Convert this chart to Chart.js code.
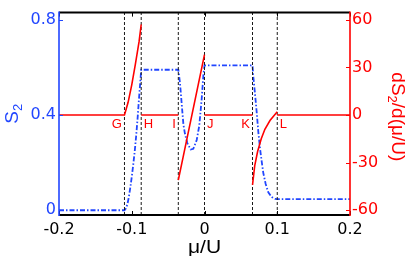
<!DOCTYPE html>
<html>
<head>
<meta charset="utf-8">
<script src="https://cdn.jsdelivr.net/npm/chart.js@4.4.0/dist/chart.umd.min.js"></script>
<style>
  html, body { margin: 0; padding: 0; background: #fff; }
  #wrap { width: 415px; height: 256px; }
</style>
</head>
<body>
<div id="wrap"><canvas id="chart" width="415" height="256"></canvas></div>
<script>
// S2 (left axis)
const muS2 = [-0.2, -0.11, -0.108, -0.106, -0.104, -0.102, -0.1, -0.098, -0.096, -0.094, -0.092, -0.09, -0.088, -0.087,
    -0.036, -0.0337, -0.0313, -0.029, -0.0268, -0.0236, -0.019, -0.0154, -0.0107, -0.0072, -0.0038, -0.0016, 0,
    0.066, 0.0671, 0.0694, 0.0718, 0.074, 0.0763, 0.0786, 0.0808, 0.0841, 0.0877, 0.0924, 0.0969, 0.1, 0.2];
const s2 = [0, 0, 0.008, 0.025, 0.055, 0.095, 0.14, 0.19, 0.245, 0.31, 0.385, 0.47, 0.55, 0.59,
    0.59, 0.535, 0.445, 0.36, 0.32, 0.282, 0.255, 0.258, 0.295, 0.355, 0.47, 0.565, 0.608,
    0.608, 0.56, 0.49, 0.41, 0.328, 0.26, 0.205, 0.157, 0.11, 0.075, 0.055, 0.048, 0.047, 0.047];

// dS2/d(mu/U) (right axis), null = break in the line
const muDS = [-0.2, -0.11, -0.105, -0.1, -0.095, -0.09, -0.087, -0.087,
    -0.087, -0.036, -0.036,
    -0.036, -0.018, 0, 0,
    0, 0.066, 0.066,
    0.066, 0.069, 0.073, 0.078, 0.083, 0.09, 0.1, 0.1,
    0.1, 0.2];
const dS = [0, 0, 8, 19, 32, 46, 57, null,
    0, 0, null,
    -41, -1.5, 38, null,
    0, 0, null,
    -44, -32, -23, -15, -9, -3.5, 2, null,
    0, 0];

// phase boundaries (dashed lines) and their names
const boundaries = [-0.11, -0.087, -0.036, 0, 0.066, 0.1];
const boundaryNames = ['G', 'H', 'I', 'J', 'K', 'L'];

// axes
const xTicks = [-0.2, -0.1, 0, 0.1, 0.2];
const xTickLabels = ['-0.2', '-0.1', '0', '0.1', '0.2'];
const s2Ticks = [0, 0.4, 0.8];
const s2TickLabels = ['0', '0.4', '0.8'];
const dsTicks = [-60, -30, 0, 30, 60];
const dsTickLabels = ['-60', '-30', '0', '30', '60'];
const s2Range = [-0.02, 0.83];
const dsRange = [-63, 64.5];

const BLUE = '#2146ff';
const RED = '#ff0000';

const pts = (xs, ys) => xs.map((x, i) => ({ x: x, y: ys[i] }));

const boundaryData = [];
boundaries.forEach(b => {
    boundaryData.push({ x: b, y: s2Range[0] }, { x: b, y: s2Range[1] }, { x: b, y: null });
});

// inward ticks, spines, titles, phase letters
const decorations = {
    id: 'decorations',
    afterDraw(chart) {
        const ctx = chart.ctx;
        const a = chart.chartArea;
        const sx = chart.scales.x, sy = chart.scales.y, sy1 = chart.scales.y1;
        ctx.save();

        // phase letters
        ctx.fillStyle = RED;
        ctx.font = '13px "Liberation Sans", Arial, sans-serif';
        ctx.textBaseline = 'alphabetic';
        const yl = sy1.getPixelForValue(0) + 13;
        boundaries.forEach((b, i) => {
            const px = sx.getPixelForValue(b);
            if (i % 2 === 0) { ctx.textAlign = 'right'; ctx.fillText(boundaryNames[i], px - 2.5, yl); }
            else { ctx.textAlign = 'left'; ctx.fillText(boundaryNames[i], px + 2.5, yl); }
        });

        // ticks
        ctx.lineWidth = 1;
        ctx.strokeStyle = '#000';
        xTicks.forEach(v => {
            const px = Math.round(sx.getPixelForValue(v)) + 0.5;
            ctx.beginPath();
            ctx.moveTo(px, a.bottom); ctx.lineTo(px, a.bottom - 4);
            ctx.moveTo(px, a.top); ctx.lineTo(px, a.top + 4);
            ctx.stroke();
        });
        ctx.strokeStyle = BLUE;
        s2Ticks.forEach(v => {
            const py = Math.round(sy.getPixelForValue(v)) + 0.5;
            ctx.beginPath(); ctx.moveTo(a.left, py); ctx.lineTo(a.left + 4, py); ctx.stroke();
        });
        ctx.strokeStyle = RED;
        dsTicks.forEach(v => {
            const py = Math.round(sy1.getPixelForValue(v)) + 0.5;
            ctx.beginPath(); ctx.moveTo(a.right, py); ctx.lineTo(a.right - 4, py); ctx.stroke();
        });

        // spines
        ctx.lineWidth = 2;
        ctx.strokeStyle = '#000';
        ctx.beginPath();
        ctx.moveTo(a.left, a.top); ctx.lineTo(a.right, a.top);
        ctx.moveTo(a.left, a.bottom); ctx.lineTo(a.right, a.bottom);
        ctx.stroke();
        ctx.lineWidth = 1.6;
        ctx.strokeStyle = BLUE;
        ctx.beginPath(); ctx.moveTo(a.left, a.top - 1); ctx.lineTo(a.left, a.bottom + 1); ctx.stroke();
        ctx.strokeStyle = RED;
        ctx.beginPath(); ctx.moveTo(a.right, a.top - 1); ctx.lineTo(a.right, a.bottom + 1); ctx.stroke();

        // x title
        ctx.fillStyle = '#000';
        ctx.font = '18px "Liberation Sans", Arial, sans-serif';
        ctx.textAlign = 'center';
        ctx.save();
        ctx.translate((a.left + a.right) / 2, 253);
        ctx.scale(1.17, 1);
        ctx.fillText('\u03bc/U', 0, 0);
        ctx.restore();

        // left title S2, reading upwards
        const big = '19px "Liberation Sans", Arial, sans-serif';
        const small = '13px "Liberation Sans", Arial, sans-serif';
        ctx.fillStyle = BLUE;
        ctx.textAlign = 'left';
        ctx.save();
        ctx.font = big;
        const wS = ctx.measureText('S').width;
        ctx.font = small;
        const w2 = ctx.measureText('2').width;
        ctx.translate(18, (a.top + a.bottom) / 2 + (wS + w2) / 2);
        ctx.rotate(-Math.PI / 2);
        ctx.font = big; ctx.fillText('S', 0, 0);
        ctx.font = small; ctx.fillText('2', wS, 4);
        ctx.restore();

        // right title dS2/d(mu/U), reading downwards
        ctx.fillStyle = RED;
        ctx.save();
        ctx.font = big;
        const wa = ctx.measureText('dS').width;
        const wc = ctx.measureText('/d(\u03bc/U)').width;
        ctx.font = small;
        const wb = ctx.measureText('2').width;
        const total = wa + wb + wc;
        ctx.translate(392, (a.top + a.bottom) / 2 - total / 2 + 3);
        ctx.rotate(Math.PI / 2);
        ctx.font = big; ctx.fillText('dS', 0, 0);
        ctx.font = small; ctx.fillText('2', wa, 4);
        ctx.font = big; ctx.fillText('/d(\u03bc/U)', wa + wb, 0);
        ctx.restore();

        ctx.restore();
    }
};

const tickFont = { family: '"DejaVu Sans", sans-serif', size: 16 };

new Chart(document.getElementById('chart'), {
    type: 'scatter',
    data: {
        datasets: [
            {
                label: 'dS2',
                data: pts(muDS, dS),
                yAxisID: 'y1',
                showLine: true,
                borderColor: RED,
                borderWidth: 1.6,
                pointRadius: 0,
                spanGaps: false,
                order: 0
            },
            {
                label: 'boundaries',
                data: boundaryData,
                yAxisID: 'y',
                showLine: true,
                borderColor: '#1a1a1a',
                borderWidth: 1,
                borderDash: [3, 2],
                pointRadius: 0,
                spanGaps: false,
                order: 1
            },
            {
                label: 'S2',
                data: pts(muS2, s2),
                yAxisID: 'y',
                showLine: true,
                borderColor: BLUE,
                borderWidth: 1.8,
                borderDash: [5, 2, 1.5, 2],
                pointRadius: 0,
                order: 2
            }
        ]
    },
    options: {
        responsive: false,
        animation: false,
        events: [],
        layout: { padding: { top: 8, left: 0, right: 0, bottom: 0 } },
        plugins: { legend: { display: false }, tooltip: { enabled: false } },
        scales: {
            x: {
                type: 'linear',
                min: -0.2, max: 0.2,
                afterBuildTicks: s => { s.ticks = xTicks.map(v => ({ value: v })); },
                afterFit: s => { s.height = 41; },
                grid: { display: false, drawTicks: false },
                border: { display: false },
                ticks: {
                    autoSkip: false, maxRotation: 0, padding: 5,
                    color: '#000', font: tickFont,
                    callback: (v, i) => xTickLabels[i]
                }
            },
            y: {
                position: 'left',
                min: s2Range[0], max: s2Range[1],
                afterBuildTicks: s => { s.ticks = s2Ticks.map(v => ({ value: v })); },
                afterFit: s => { s.width = 59; },
                grid: { display: false, drawTicks: false },
                border: { display: false },
                ticks: {
                    autoSkip: false, padding: 3,
                    color: BLUE, font: tickFont,
                    callback: (v, i) => s2TickLabels[i]
                }
            },
            y1: {
                position: 'right',
                min: dsRange[0], max: dsRange[1],
                afterBuildTicks: s => { s.ticks = dsTicks.map(v => ({ value: v })); },
                afterFit: s => { s.width = 65; },
                grid: { display: false, drawTicks: false },
                border: { display: false },
                ticks: {
                    autoSkip: false, padding: 2,
                    color: RED, font: tickFont,
                    callback: (v, i) => dsTickLabels[i]
                }
            }
        }
    },
    plugins: [decorations]
});
</script>
</body>
</html>
